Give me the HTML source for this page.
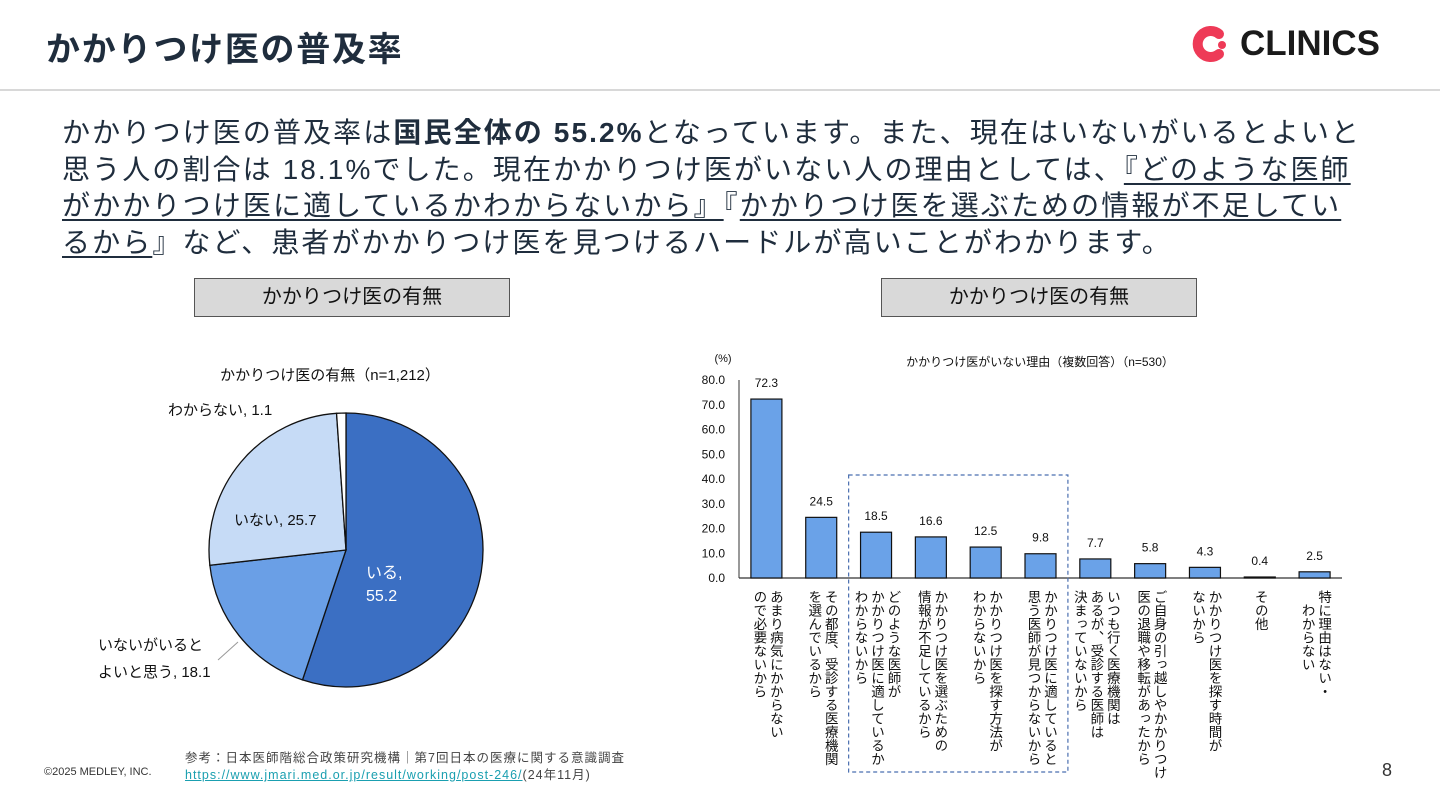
<!DOCTYPE html>
<html><head><meta charset="utf-8">
<style>
*{margin:0;padding:0;box-sizing:border-box}
body{width:1440px;height:810px;background:#fff;position:relative;overflow:hidden;font-family:"Liberation Sans","Noto Sans CJK JP",sans-serif;color:#1f2d3d}
.abs{position:absolute}
#title{left:46px;top:22px;font-size:34px;font-weight:bold;color:#1f2d3d;white-space:nowrap;letter-spacing:1.7px}
#hr{left:0;top:89px;width:1440px;height:2px;background:#d8d8d8}
#logo{left:1192px;top:24px;height:40px;display:flex;align-items:center}
#logo span{font-size:35px;font-weight:bold;color:#1a1a1a;margin-left:10px}
#para{left:62px;top:115px;font-size:28px;line-height:36.5px;color:#1f2d3d;white-space:nowrap;letter-spacing:2.1px}
#para u{text-decoration-thickness:2px;text-underline-offset:4px}
.box{height:39px;background:#d9d9d9;border:1.5px solid #555;font-size:20px;color:#111;text-align:center;line-height:36px}
.vl{position:absolute;top:590px;writing-mode:vertical-rl;font-size:13.5px;line-height:16.5px;color:#111;white-space:nowrap}
#foot1{left:44px;top:766px;font-size:11px;color:#333}
#foot2{left:185px;top:750px;font-size:12.5px;color:#444;line-height:17px;white-space:nowrap;letter-spacing:1px}
#foot2 a{color:#1a9fb0;text-decoration:underline}
#pg{left:1382px;top:760px;font-size:18px;color:#333}
</style></head><body>
<div class="abs" id="title">かかりつけ医の普及率</div>
<div class="abs" id="hr"></div>
<div class="abs" id="logo">
<svg width="38" height="38" viewBox="0 0 38 38"><path d="M27 9 A13 13 0 1 0 27 29" fill="none" stroke="#ee3a57" stroke-width="10" stroke-linecap="round"/><circle cx="30" cy="20" r="4" fill="#ee3a57"/></svg>
<span>CLINICS</span></div>
<div class="abs" id="para">かかりつけ医の普及率は<b>国民全体の 55.2%</b>となっています。また、現在はいないがいるとよいと<br>思う人の割合は 18.1%でした。現在かかりつけ医がいない人の理由としては、<u>『どのような医師</u><br><u>がかかりつけ医に適しているかわからないから』</u>『<u>かかりつけ医を選ぶための情報が不足してい</u><br><u>るから</u>』など、患者がかかりつけ医を見つけるハードルが高いことがわかります。</div>
<div class="abs box" style="left:194px;top:278px;width:316px">かかりつけ医の有無</div>
<div class="abs box" style="left:881px;top:278px;width:316px">かかりつけ医の有無</div>

<svg class="abs" style="left:0;top:0" width="1440" height="810" id="charts"></svg>
<div id="labels"></div>

<div class="abs" id="foot1">©2025 MEDLEY, INC.</div>
<div class="abs" id="foot2">参考：日本医師階総合政策研究機構｜第7回日本の医療に関する意識調査<br><a>https://www.jmari.med.or.jp/result/working/post-246/</a>(24年11月)</div>
<div class="abs" id="pg">8</div>

<script>
const pieLabels=["いる","いないがいると よいと思う","いない","わからない"];
const pieValues=[55.2,18.1,25.7,1.1];
const pieColors=["#3b6fc3","#6a9fe6","#c6dbf6","#ffffff"];
const barCats=["あまり病気にかからない|ので必要ないから","その都度、受診する医療機関|を選んでいるから","どのような医師が|かかりつけ医に適しているか|わからないから","かかりつけ医を選ぶための|情報が不足しているから","かかりつけ医を探す方法が|わからないから","かかりつけ医に適していると|思う医師が見つからないから","いつも行く医療機関は|あるが、受診する医師は|決まっていないから","ご自身の引っ越しやかかりつけ|医の退職や移転があったから","かかりつけ医を探す時間が|ないから","その他","特に理由はない・|　わからない"];
const barValues=[72.3,24.5,18.5,16.6,12.5,9.8,7.7,5.8,4.3,0.4,2.5];
const yTicks=[0,10,20,30,40,50,60,70,80];

const NS="http://www.w3.org/2000/svg";
const svg=document.getElementById('charts');
function mk(tag,attrs,parent){const e=document.createElementNS(NS,tag);for(const k in attrs)e.setAttribute(k,attrs[k]);(parent||svg).appendChild(e);return e;}

// Pie
const cx=346,cy=550,R=137;
const total=pieValues.reduce((a,b)=>a+b,0);
let ang=0;
pieValues.forEach((v,i)=>{
  const a0=ang/total*2*Math.PI, a1=(ang+v)/total*2*Math.PI; ang+=v;
  const x0=cx+R*Math.sin(a0),y0=cy-R*Math.cos(a0),x1=cx+R*Math.sin(a1),y1=cy-R*Math.cos(a1);
  const p=mk('path',{d:`M${cx},${cy}L${x0},${y0}A${R},${R} 0 ${a1-a0>Math.PI?1:0} 1 ${x1},${y1}Z`,fill:pieColors[i],stroke:'#111','stroke-width':1.3});
  
  
});
function txt(x,y,s,size,anchor,fill,name){const t=mk('text',{x:x,y:y,'font-size':size,'text-anchor':anchor||'start',fill:fill||'#111','font-family':'"Liberation Sans","Noto Sans CJK JP",sans-serif'});t.textContent=s;return t;}
txt(330,380,"かかりつけ医の有無（n=1,212）",15,'middle','#111','pie-title');
txt(366,578,"いる,",16,'start','#fff','pie-label-iru');
txt(366,601,pieValues[0].toFixed(1),16,'start','#fff','pie-value-iru');
txt(98,650,"いないがいると",15,'start','#111','pie-label-want');
txt(98,677,"よいと思う, "+pieValues[1],15,'start','#111','pie-label-want2');
mk('line',{x1:218,y1:660,x2:238,y2:642,stroke:'#999','stroke-width':1});
txt(234,525,"いない, "+pieValues[2],15,'start','#111','pie-label-inai');
txt(168,415,"わからない, "+pieValues[3],15,'start','#111','pie-label-unknown');

// Bar chart
const x0=739,x1=1342,yBase=578,yTop=380,yMax=80;
const y=v=>yBase-(v/yMax)*(yBase-yTop);
const step=(x1-x0)/barValues.length;
const bx=i=>x0+step*(i+0.5);
const bw=31;
txt(723,362,"(%)",11,'middle','#111','y-axis-unit');
txt(1040,366,"かかりつけ医がいない理由（複数回答）（n=530）",12,'middle','#111','bar-title');
yTicks.forEach(t=>{txt(725,y(t)+4,t.toFixed(1),12,'end','#111','y-tick-label');});
mk('line',{x1:x0,y1:yTop,x2:x0,y2:yBase,stroke:'#333','stroke-width':1});
mk('line',{x1:x0,y1:yBase,x2:x1,y2:yBase,stroke:'#333','stroke-width':1.2});
barValues.forEach((v,i)=>{
  const r=mk('rect',{x:bx(i)-bw/2,y:y(v),width:bw,height:yBase-y(v),fill:'#6aa2e8',stroke:'#111','stroke-width':1.2});
  
  
  txt(bx(i),y(v)-12,v.toFixed(1),12,'middle','#111','bar-value-label');
});
// dashed highlight
mk('rect',{x:(bx(1)+bx(2))/2,y:475,width:bx(5)-bx(2)+step,height:297,fill:'none',stroke:'#4a6fb0','stroke-width':1.2,'stroke-dasharray':'4,3'});

const lab=document.getElementById('labels');
barCats.forEach((c,i)=>{
  const d=document.createElement('div');
  d.className='vl';
  
  
  d.innerHTML=c.split('|').join('<br>');
  lab.appendChild(d);
  d.style.left=(bx(i)-d.offsetWidth/2)+'px';
});
</script>
</body></html>
